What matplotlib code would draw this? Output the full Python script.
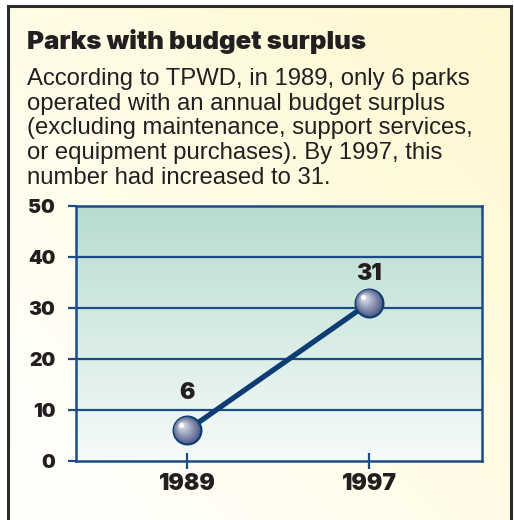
import numpy as np
import matplotlib.pyplot as plt
from matplotlib.colors import LinearSegmentedColormap, to_rgb
from matplotlib.transforms import offset_copy

# Parks operating with an annual budget surplus
years = ['1989', '1997']
parks = [6, 31]
y_ticks = [0, 10, 20, 30, 40, 50]

title = 'Parks with budget surplus'
body = ('According to TPWD, in 1989, only 6 parks\n'
        'operated with an annual budget surplus\n'
        '(excluding maintenance, support services,\n'
        'or equipment purchases). By 1997, this\n'
        'number had increased to 31.')

NAVY = '#0d3d73'
GRID = '#1b4c85'
TEXT = '#231f20'
HEAVY = dict(family='Inter', fontweight=900)

W, H = 514, 520
fig = plt.figure(figsize=(W / 100, H / 100), dpi=100)
fig.patch.set_facecolor('white')

# cream panel behind everything, warmer towards the upper right
bg = fig.add_axes([0, 0, 1, 1], zorder=-2)
bg.set_xlim(0, W)
bg.set_ylim(H, 0)
bg.axis('off')
gx, gy = np.meshgrid(np.linspace(0, 1, 200), np.linspace(0, 1, 200))
t = np.clip(0.6 * gx + 0.6 * (1 - gy) - 0.1, 0, 1)
c0 = np.array(to_rgb('#fffffb'))
c1 = np.array(to_rgb('#fff8d2'))
img = c0 + (c1 - c0) * t[..., None]
bg.imshow(img, extent=(8, 510.5, H, 6), aspect='auto', origin='upper',
          interpolation='bicubic')
bg.plot([7.5, 7.5, 511, 511], [H, 5.5, 5.5, H], color='#2b2b2b', lw=2.2,
        solid_joinstyle='miter')

fig.text(27 / W, 1 - 49 / H, title, fontsize=18.6, color=TEXT,
         va='baseline', **HEAVY)
fig.text(27 / W, 1 - 68 / H, body, fontsize=17.2, family='Liberation Sans',
         color=TEXT, va='top', linespacing=1.155)

ax = fig.add_axes([76 / W, 59 / H, 406 / W, 255 / H])
ax.set_xlim(-0.61, 1.62)
ax.set_ylim(0, 50)

# teal gradient inside the plot area
grad = np.linspace(0, 1, 256)[:, None]
cmap = LinearSegmentedColormap.from_list('plot_bg', ['#f6fbfa', '#b8dccf'])
ax.imshow(grad, extent=(0, 1, 0, 1), transform=ax.transAxes, aspect='auto',
          origin='lower', cmap=cmap, zorder=0)

for v in y_ticks[1:-1]:
    ax.axhline(v, color=GRID, lw=1.6, zorder=1)
for s in ax.spines.values():
    s.set_color(GRID)
    s.set_linewidth(1.8)

x = np.arange(len(years))
ax.plot(x, parks, color=NAVY, lw=3.8, solid_capstyle='round', zorder=3)

# shaded spheres: stacked discs shifted toward the highlight
layers = 14
for i in range(layers):
    f = i / (layers - 1)
    size = 400 * (1 - 0.93 * f) ** 2
    col = np.array(to_rgb('#525e8a')) * (1 - f) + np.array(to_rgb('#e8ebf3')) * f
    tr = offset_copy(ax.transData, fig=fig, x=-4 * f, y=4 * f, units='points')
    ax.scatter(x, parks, s=size, color=col, transform=tr, zorder=4 + i * 0.01,
               edgecolors=NAVY if i == 0 else 'none', linewidths=1.6 if i == 0 else 0)
tr = offset_copy(ax.transData, fig=fig, x=-4.2, y=4.2, units='points')
ax.scatter(x, parks, s=6, color='white', transform=tr, zorder=5)

label_gap = [19, 13]
for xi, v, gap in zip(x, parks, label_gap):
    ax.annotate(str(v), (xi, v), xytext=(0, gap), textcoords='offset points',
                ha='center', va='bottom', fontsize=16.5, color=TEXT, zorder=6,
                **HEAVY)

ax.set_yticks(y_ticks)
ax.set_xticks(x)
ax.set_xticklabels(years)
ax.tick_params(axis='y', direction='out', length=6, width=1.6, color=GRID,
               pad=9, labelsize=14, labelcolor=TEXT)
ax.tick_params(axis='x', direction='inout', length=11, width=1.6, color=GRID,
               pad=3, labelsize=16.5, labelcolor=TEXT)
for lbl in ax.get_xticklabels() + ax.get_yticklabels():
    lbl.set_fontweight(900)
    lbl.set_family('Inter')

fig.savefig('out.png', dpi=100)
